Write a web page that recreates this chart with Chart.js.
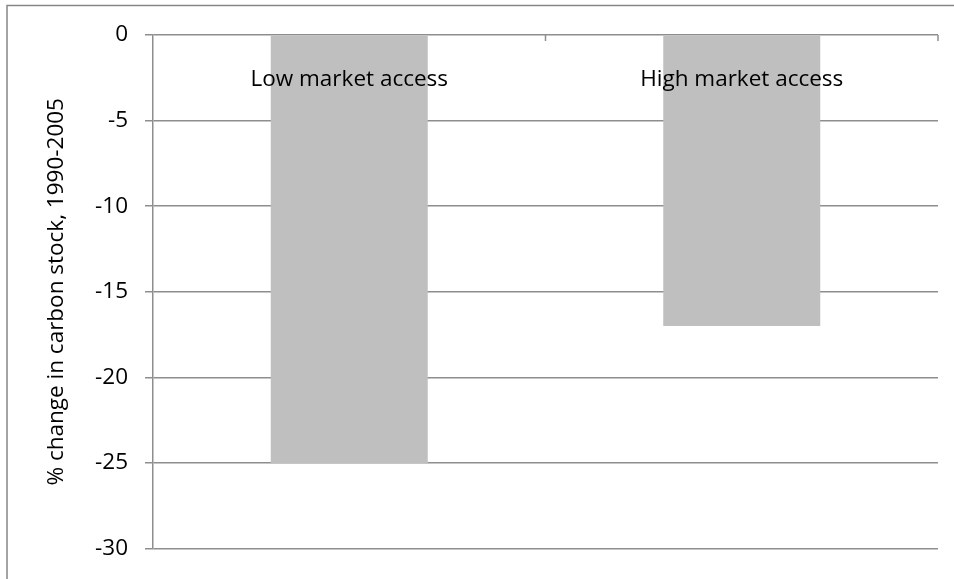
<!DOCTYPE html>
<html>
<head>
<meta charset="utf-8">
<script src="https://cdn.jsdelivr.net/npm/chart.js@4/dist/chart.umd.min.js"></script>
<style>
    html, body { margin: 0; padding: 0; background: #fff; }
    #wrap { width: 954px; height: 579px; }
</style>
</head>
<body>
<div id="wrap"><canvas id="carbonChart" width="954" height="579"></canvas></div>
<script>
Chart.defaults.font.family = "'Open Sans', 'Liberation Sans', sans-serif";
Chart.defaults.color = '#000';

var categories = ['Low market access', 'High market access'];
var carbonChange = [-25, -17];
var yTicks = [0, -5, -10, -15, -20, -25, -30];

var axisGray = '#8e8e8e';

// frame of the chart object plus the category labels and ticks along the zero line
var framePlugin = {
    id: 'frame',
    beforeDraw: function (chart) {
        var c = chart.ctx;
        c.save();
        c.strokeStyle = '#868686';
        c.lineWidth = 1.5;
        c.beginPath();
        c.moveTo(7, 579);
        c.lineTo(7, 5.5);
        c.lineTo(954, 5.5);
        c.stroke();
        c.restore();
    },
    afterDraw: function (chart) {
        var c = chart.ctx;
        var x = chart.scales.x;
        var y = chart.scales.y;
        var zero = y.getPixelForValue(0);
        var step = (x.right - x.left) / categories.length;
        c.save();
        c.strokeStyle = axisGray;
        c.lineWidth = 1.5;
        for (var i = 1; i <= categories.length; i++) {
            var px = x.left + i * step;
            c.beginPath();
            c.moveTo(px, zero);
            c.lineTo(px, zero + 6);
            c.stroke();
        }
        c.fillStyle = '#000';
        c.font = "22.5px 'Open Sans', 'Liberation Sans', sans-serif";
        c.textAlign = 'center';
        c.textBaseline = 'alphabetic';
        categories.forEach(function (label, i) {
            c.fillText(label, x.getPixelForValue(i), zero + 51);
        });
        c.restore();
    }
};

new Chart(document.getElementById('carbonChart'), {
    type: 'bar',
    plugins: [framePlugin],
    data: {
        labels: categories,
        datasets: [
            {
                label: '% change in carbon stock',
                data: carbonChange,
                backgroundColor: '#bfbfbf',
                borderWidth: 0,
                categoryPercentage: 1,
                barPercentage: 0.4,
            },
        ]
    },
    options: {
        responsive: false,
        animation: false,
        layout: {
            padding: { left: 0, top: 35, right: 16, bottom: 28 },
        },
        plugins: {
            legend: { display: false },
            tooltip: { enabled: false },
        },
        scales: {
            x: {
                display: false,
            },
            y: {
                min: -30,
                max: 0,
                afterFit: function (scale) {
                    scale.width = 153;
                },
                afterBuildTicks: function (scale) {
                    scale.ticks = yTicks.map(function (v) { return { value: v }; });
                },
                ticks: {
                    padding: 17,
                    font: { size: 22.5 },
                },
                title: {
                    display: true,
                    text: '% change in carbon stock, 1990-2005',
                    font: { size: 22.5 },
                    padding: { top: 43, bottom: 0 },
                },
                grid: {
                    color: axisGray,
                    lineWidth: 1.5,
                    tickLength: 8,
                },
                border: {
                    display: true,
                    color: axisGray,
                    width: 1.5,
                },
            },
        },
    },
});
</script>
</body>
</html>
